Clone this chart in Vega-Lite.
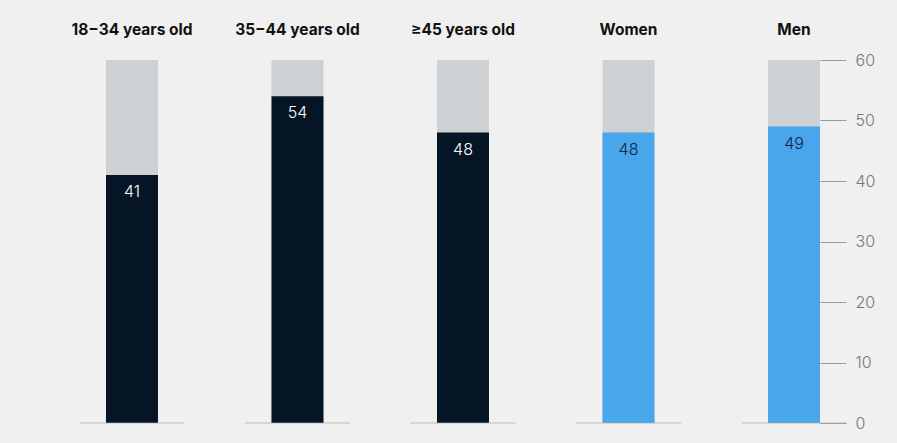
{
  "$schema": "https://vega.github.io/schema/vega-lite/v6.json",
  "width": 714,
  "height": 363,
  "autosize": {"type": "none"},
  "padding": {"left": 106, "top": 60, "right": 77, "bottom": 20},
  "background": "#f0f0f0",
  "config": {"view": {"stroke": null}, "font": "Inter"},
  "data": {
    "values": [
      {"category": "18−34 years old", "value": 41, "group": "age"},
      {"category": "35−44 years old", "value": 54, "group": "age"},
      {"category": "≥45 years old", "value": 48, "group": "age"},
      {"category": "Women", "value": 48, "group": "gender"},
      {"category": "Men", "value": 49, "group": "gender"}
    ]
  },
  "encoding": {
    "x": {
      "field": "category",
      "type": "nominal",
      "sort": null,
      "scale": {"paddingInner": 0.686, "paddingOuter": 0},
      "axis": {
        "orient": "top",
        "title": null,
        "ticks": false,
        "domain": false,
        "labelAngle": 0,
        "labelFontSize": 15.5,
        "labelFontWeight": "bold",
        "labelColor": "#111111",
        "labelPadding": 23
      }
    }
  },
  "layer": [
    {
      "mark": {"type": "bar", "color": "#cdd1d4"},
      "encoding": {
        "y": {
          "datum": 60,
          "type": "quantitative",
          "scale": {"domain": [0, 60]},
          "axis": {
            "orient": "right",
            "title": null,
            "values": [0, 10, 20, 30, 40, 50, 60],
            "tickSize": 26,
            "tickColor": "#999999",
            "domain": false,
            "grid": false,
            "labelFontSize": 16,
            "labelFontWeight": 300,
            "labelColor": "#777777",
            "labelPadding": 9
          }
        }
      }
    },
    {
      "mark": {"type": "bar"},
      "encoding": {
        "y": {
          "field": "value",
          "type": "quantitative",
          "axis": {
            "orient": "right",
            "title": null,
            "values": [0, 10, 20, 30, 40, 50, 60],
            "tickSize": 26,
            "tickColor": "#999999",
            "domain": false,
            "grid": false,
            "labelFontSize": 16,
            "labelFontWeight": 300,
            "labelColor": "#777777",
            "labelPadding": 9
          }
        },
        "color": {
          "condition": {"test": "datum.group === 'age'", "value": "#061526"},
          "value": "#4aa6ea"
        }
      }
    },
    {
      "mark": {"type": "tick", "orient": "horizontal", "size": 105, "thickness": 1, "color": "#aaaaaa"},
      "encoding": {
        "y": {
          "datum": 0,
          "type": "quantitative",
          "axis": {
            "orient": "right",
            "title": null,
            "values": [0, 10, 20, 30, 40, 50, 60],
            "tickSize": 26,
            "tickColor": "#999999",
            "domain": false,
            "grid": false,
            "labelFontSize": 16,
            "labelFontWeight": 300,
            "labelColor": "#777777",
            "labelPadding": 9
          }
        }
      }
    },
    {
      "mark": {"type": "text", "dy": 17, "fontSize": 16, "fontWeight": 300, "baseline": "middle"},
      "encoding": {
        "y": {
          "field": "value",
          "type": "quantitative",
          "axis": {
            "orient": "right",
            "title": null,
            "values": [0, 10, 20, 30, 40, 50, 60],
            "tickSize": 26,
            "tickColor": "#999999",
            "domain": false,
            "grid": false,
            "labelFontSize": 16,
            "labelFontWeight": 300,
            "labelColor": "#777777",
            "labelPadding": 9
          }
        },
        "text": {"field": "value", "type": "quantitative"},
        "color": {
          "condition": {"test": "datum.group === 'age'", "value": "#ffffff"},
          "value": "#0b2545"
        }
      }
    }
  ]
}
